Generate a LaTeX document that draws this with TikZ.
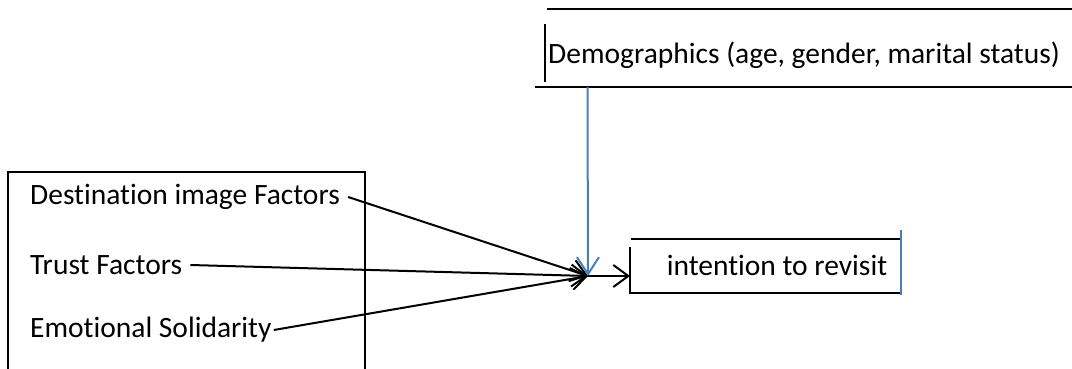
\documentclass[tikz,border=0pt]{standalone}
\usepackage{fontspec}
\setmainfont{Carlito}[Ligatures={NoCommon}]
\usetikzlibrary{arrows.meta}
\definecolor{wblue}{HTML}{4A7EBB}
\begin{document}
\begin{tikzpicture}[x=1pt,y=-1pt,
  lbl/.style={font=\fontsize{29.5}{34}\selectfont, inner sep=0pt, anchor=west},
  frame/.style={line width=2pt, draw=black},
  bluefr/.style={line width=2pt, draw=wblue},
  conn/.style={line width=2pt, draw=black, -{Straight Barb[length=15pt,width=22pt,line width=2pt]}},
  blueconn/.style={line width=2pt, draw=wblue, -{Straight Barb[length=17pt,width=22pt,line width=2pt]}}]
\useasboundingbox (0,0) rectangle (1072,369);

% Demographics partial box
\draw[frame] (547,9) -- (1072,9);
\draw[frame] (545,24) -- (545,82);
\draw[frame] (535,87) -- (1072,87);
\node[lbl] (demo) at (548,55) {Demographics (age, gender, marital status)};
\coordinate (dbot) at (587.5,87);

% Left box
\draw[frame] (8,369) -- (8,172) -- (365,172) -- (365,369);
\node[lbl] (dest) at (30,197) {Destination image Factors};
\node[lbl] (trust) at (30,265) {Trust Factors};
\node[lbl] (emo) at (30,330) {Emotional Solidarity};

% junction
\coordinate (j) at (588,276);

% Intention box
\draw[frame] (631,239) -- (901,239);
\draw[frame] (630,247) -- (630,293) -- (901,293);
\draw[bluefr] (901,230) -- (901,295);
\node[lbl, anchor=center] (intent) at (777,265) {intention to revisit};
\coordinate (ileft) at (630,276);

% connectors
\draw[conn] ([xshift=8pt]dest.east) -- (j);
\draw[conn] ([xshift=8pt]trust.east) -- (j);
\draw[conn] ([xshift=2pt]emo.east) -- (j);
\draw[blueconn] (dbot) -- (j);
\draw[conn] (j) -- (ileft);
\end{tikzpicture}
\end{document}
